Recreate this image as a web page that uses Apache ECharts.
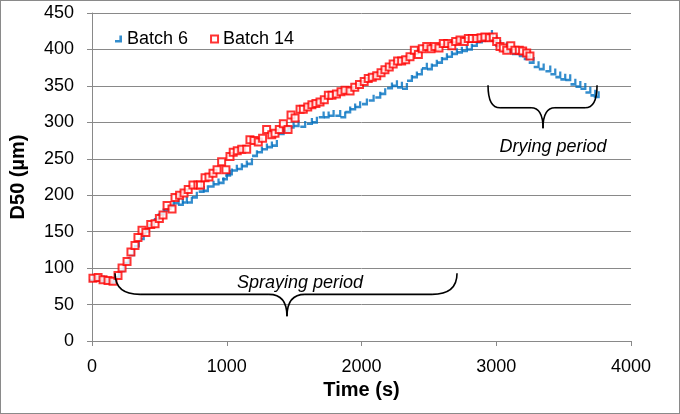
<!DOCTYPE html>
<html>
<head>
<meta charset="utf-8">
<script src="https://cdn.jsdelivr.net/npm/echarts@6/dist/echarts.min.js"></script>
<style>
html,body{margin:0;padding:0;background:#fff;}
#wrap{position:relative;width:680px;height:414px;box-sizing:border-box;border:1px solid #8a8a8a;}
#chart{position:absolute;left:-1px;top:-1px;width:680px;height:414px;}
</style>
</head>
<body>
<div id="wrap"><div id="chart"></div></div>
<script>
// ---- Data ----
const batch6Time = [0,37,74,111,148,185,222,259,296,333,370,407,444,481,518,555,592,629,660,
  690,727,764,814,846,888,925,962,987,1011,1024,1061,1098,1135,1173,1210,1247,1284,1321,1358,
  1408,1445,1482,1519,1568,1618,1655,1705,1742,1779,1828,1865,1902,1939,1976,2026,2076,2125,
  2162,2212,2249,2286,2323,2360,2397,2434,2471,2508,2545,2583,2620,2657,2694,2731,2768,2805,
  2842,2879,2917,2954,2986,3015,3065,3102,3139,3189,3226,3263,3300,3338,3387,3424,3461,3498,
  3535,3573,3610,3647,3684,3721,3746];
const batch6D50 = [86,86,85,83,83,90,99,110,121,133,143,153,162,170,177,182,188,192,190,
  193,193,200,208,209,215,218,220,225,230,232,237,239,243,246,257,262,266,269,271,
  287,291,296,298,297,301,303,310,310,312,312,310,317,321,324,328,333,337,
  342,350,353,351,349,360,365,369,377,376,381,385,390,393,397,399,401,403,
  408,413,415,422,415,408,405,400,397,394,390,385,379,376,373,369,365,362,
  361,355,352,349,344,340,338];

const batch14Time = [7,45,82,119,156,193,223,260,289,319,341,371,400,436,468,500,527,557,594,616,
  650,683,714,749,786,805,839,868,898,928,962,994,1024,1048,1078,1111,1148,1172,1202,1234,
  1266,1296,1334,1358,1390,1420,1455,1477,1507,1544,1568,1601,1632,1662,1692,1724,1754,1781,
  1814,1848,1878,1915,1950,1985,2020,2050,2080,2113,2145,2174,2206,2235,2268,2298,2328,2360,
  2392,2422,2451,2484,2516,2545,2575,2607,2640,2670,2699,2731,2763,2793,2822,2855,2887,2916,
  2949,2978,3003,3028,3052,3078,3108,3139,3171,3196,3226,3250];
const batch14D50 = [86,87,84,83,82,90,100,109,122,131,142,152,149,160,161,168,173,186,181,197,
  200,203,208,214,214,214,224,225,230,235,246,235,253,259,261,263,263,276,275,273,
  278,290,283,285,290,298,290,310,306,318,318,321,324,326,328,331,337,337,
  339,342,344,343,348,352,356,360,362,364,368,372,376,380,384,384,386,390,
  399,393,401,404,401,404,402,408,408,405,411,413,411,415,415,415,416,417,
  416,417,411,404,402,399,405,399,399,398,395,391];

const xTicks = [0,1000,2000,3000,4000];
const yTicks = [0,50,100,150,200,250,300,350,400,450];
const seriesNames = ['Batch 6','Batch 14'];
const xAxisTitle = 'Time (s)';
const yAxisTitle = 'D50 (\u00b5m)';
const annotations = ['Spraying period','Drying period'];

// ---- Chart ----
const FONT = '"Liberation Sans", Arial, sans-serif';
const GRAY = '#898989';
const pair = (t, v) => t.map((x, i) => [x, v[i]]);
const blueMark = 'path://M5,0 L8,0 L8,8 L0,8 L0,5 L5,5 Z';

const chart = echarts.init(document.getElementById('chart'), null, {renderer: 'canvas'});
chart.setOption({
  animation: false,
  backgroundColor: 'transparent',
  grid: {left: 92, right: 49, top: 13, bottom: 73, containLabel: false},
  legend: {
    left: 110, top: 25, itemGap: 22, itemWidth: 7, itemHeight: 7,
    textStyle: {fontFamily: FONT, fontSize: 18, color: '#000'},
    data: [
      {name: seriesNames[0], icon: blueMark, itemStyle: {color: '#0070C0'}},
      {name: seriesNames[1], icon: 'rect', itemStyle: {color: '#fff', borderColor: '#ff0000', borderWidth: 2}}
    ]
  },
  xAxis: {
    type: 'value', min: xTicks[0], max: xTicks[xTicks.length - 1], interval: 1000,
    name: xAxisTitle, nameLocation: 'middle', nameGap: 36,
    nameTextStyle: {fontFamily: FONT, fontSize: 20, fontWeight: 'bold', color: '#000'},
    axisLine: {show: true, onZero: false, lineStyle: {color: GRAY, width: 1}},
    axisTick: {show: true, inside: false, length: 5, lineStyle: {color: GRAY}},
    axisLabel: {fontFamily: FONT, fontSize: 18, color: '#000', margin: 17, formatter: v => String(v)},
    splitLine: {show: false}
  },
  yAxis: {
    type: 'value', min: yTicks[0], max: yTicks[yTicks.length - 1], interval: 50,
    name: yAxisTitle, nameLocation: 'middle', nameGap: 64, nameRotate: 90,
    nameTextStyle: {fontFamily: FONT, fontSize: 20, fontWeight: 'bold', color: '#000'},
    axisLine: {show: true, lineStyle: {color: GRAY, width: 1}},
    axisTick: {show: true, inside: false, length: 5, lineStyle: {color: GRAY}},
    axisLabel: {fontFamily: FONT, fontSize: 18, color: '#000', margin: 18, formatter: v => String(v)},
    splitLine: {show: true, lineStyle: {color: GRAY, width: 1}}
  },
  series: [
    {
      name: seriesNames[0], type: 'scatter', data: pair(batch6Time, batch6D50),
      symbol: blueMark, symbolSize: [6, 7],
      itemStyle: {color: '#0070C0'}, z: 2
    },
    {
      name: seriesNames[1], type: 'scatter', data: pair(batch14Time, batch14D50),
      symbol: 'rect', symbolSize: 7,
      itemStyle: {color: '#fff', borderColor: '#ff0000', borderWidth: 2}, z: 3
    }
  ]
});

// ---- Brace annotations (positioned in data space) ----
const braceStyle = {stroke: '#000', lineWidth: 1.6, fill: null};
function qcurve(x1, y1, cx, cy, x2, y2) {
  return {type: 'bezierCurve', z: 10, silent: true,
    shape: {x1: x1, y1: y1, x2: x2, y2: y2, cpx1: cx, cpy1: cy}, style: braceStyle};
}
function seg(x1, y1, x2, y2) {
  return {type: 'line', z: 10, silent: true, shape: {x1: x1, y1: y1, x2: x2, y2: y2}, style: braceStyle};
}
function brace(xl, xr, xc, yt, ym, ytip, r, r2) {
  const P = (t, v) => chart.convertToPixel({gridIndex: 0}, [t, v]);
  const a = P(xl, yt)[0], b = P(xr, yt)[0], c = P(xc, ytip)[0];
  const top = P(xl, yt)[1], mid = P(xc, ym)[1], tip = P(xc, ytip)[1];
  return [
    qcurve(a, top, a, mid, a + r, mid),
    seg(a + r, mid, c - r2, mid),
    qcurve(c - r2, mid, c, mid, c, tip),
    qcurve(c, tip, c, mid, c + r2, mid),
    seg(c + r2, mid, b - r, mid),
    qcurve(b - r, mid, b, mid, b, top)
  ];
}
function textAt(t, v, s) {
  const p = chart.convertToPixel({gridIndex: 0}, [t, v]);
  return {type: 'text', x: p[0], y: p[1], z: 10, silent: true,
    style: {text: s, fontFamily: FONT, fontSize: 18, fontStyle: 'italic', fill: '#000',
      align: 'center', verticalAlign: 'middle'}};
}
chart.setOption({
  graphic: [].concat(
    brace(171, 2709, 1447, 93, 64, 34, 25, 18),
    brace(2939, 3748, 3347, 351, 320, 292, 12, 12),
    [textAt(1544, 80, annotations[0]), textAt(3421, 266, annotations[1])]
  )
});
</script>
</body>
</html>
